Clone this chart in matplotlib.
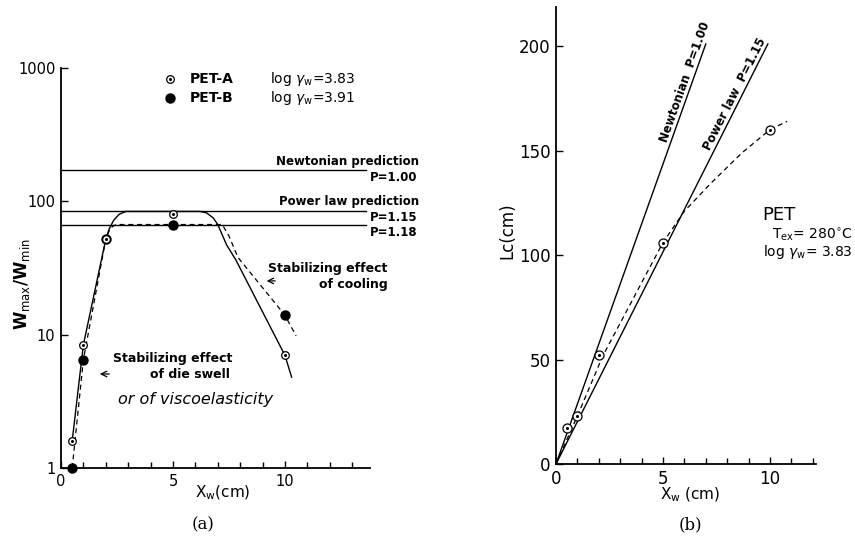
import numpy as np
import matplotlib
matplotlib.use("Agg")
import matplotlib.pyplot as plt
from matplotlib.ticker import NullLocator, FixedLocator

plt.rcParams['font.family'] = ['DejaVu Sans']
plt.rcParams['mathtext.fontset'] = 'dejavusans'

# (a) W_max/W_min against X_w
pet_a_x = [0.5, 1, 2, 5, 10]
pet_a_y = [1.6, 8.4, 52, 80, 7.0]
pet_b_x = [0.5, 1, 2, 5, 10]
pet_b_y = [1.0, 6.5, 52, 67, 14]

# hand drawn curves through the points
curve_a_x = [0.5, 1.0, 2.0, 2.15, 2.35, 2.6, 2.9, 6.2, 6.5, 6.8, 7.0, 7.4, 7.8, 10.0, 10.3]
curve_a_y = [1.6, 8.4, 52, 62, 72, 80, 84, 84, 82, 75, 67, 47, 36.6, 7.0, 4.8]
curve_b_x = [0.5, 1.0, 2.0, 2.2, 2.45, 7.2, 7.5, 7.9, 10.0, 10.5]
curve_b_y = [1.0, 6.5, 52, 63, 67, 67, 55, 38, 14, 9.8]

# predicted levels
newtonian_level = 171   # P=1.00
power115_level = 84     # P=1.15
power118_level = 67     # P=1.18
level_xmax = 13.6

# (b) Lc against X_w
lc_x = [0.5, 1, 2, 5, 10]
lc_y = [17, 23, 52, 106, 160]
lc_curve_x = [0, 1, 2.2, 5, 6.0, 7.3, 8.7, 10, 10.8]
lc_curve_y = [0, 23, 52, 106, 121, 135, 149, 160, 164]
newton_x = [0, 7.0]
newton_y = [0, 201]
power_x = [0, 9.9]
power_y = [0, 201]

W, H = 855, 536
fig = plt.figure(figsize=(W / 100, H / 100), dpi=100)

dash = (0, (4, 3))
txt = dict(fontsize=8.5, fontweight='bold')


def open_marker(ax, x, y, ms=5.5, **kw):
    ax.plot(x, y, 'o', ms=ms, mfc='white', mec='black', mew=0.9, zorder=5,
            clip_on=False, **kw)
    ax.plot(x, y, 'o', ms=1.2, color='black', zorder=6, clip_on=False, **kw)


def style_axes(ax):
    for s in ['top', 'right']:
        ax.spines[s].set_visible(False)
    for s in ['left', 'bottom']:
        ax.spines[s].set_linewidth(1.3)
    ax.tick_params(which='both', direction='in', width=1.0)
    ax.tick_params(which='major', length=5, pad=4)
    ax.tick_params(which='minor', length=4)


# ---------------- (a) ----------------
ax1 = fig.add_axes([61 / W, 1 - 468 / H, 309 / W, 400 / H])
ax1.set_yscale('log')
ax1.set_xlim(0, 13.8)
ax1.set_ylim(1, 1000)
style_axes(ax1)
ax1.set_xticks([0, 5, 10])
ax1.xaxis.set_minor_locator(FixedLocator(range(1, 14)))
ax1.yaxis.set_minor_locator(NullLocator())
ax1.set_yticks([1, 10, 100, 1000])
ax1.set_yticklabels(['1', '10', '100', '1000'], fontsize=10.5)
ax1.set_xticklabels(['0', '5', '10'], fontsize=10.5)

for lvl in [newtonian_level, power115_level, power118_level]:
    ax1.plot([0, level_xmax], [lvl, lvl], color='black', lw=1.0)

ax1.plot(curve_a_x, curve_a_y, color='black', lw=1.0)
ax1.plot(curve_b_x, curve_b_y, color='black', lw=0.9, ls=dash)
ax1.plot(pet_b_x, pet_b_y, 'o', ms=6.5, color='black', zorder=4, clip_on=False)
open_marker(ax1, pet_a_x, pet_a_y)

# legend
open_marker(ax1, [4.87], [828])
ax1.plot([4.87], [597], 'o', ms=6.5, color='black', clip_on=False)
ax1.text(5.76, 828, 'PET-A', va='center', fontsize=10, fontweight='bold')
ax1.text(5.76, 597, 'PET-B', va='center', fontsize=10, fontweight='bold')
ax1.text(9.33, 828, r'log $\gamma_{\rm w}$=3.83', va='center', fontsize=10)
ax1.text(9.33, 597, r'log $\gamma_{\rm w}$=3.91', va='center', fontsize=10)

ax1.text(16.0, 198, 'Newtonian prediction', ha='right', va='center', **txt)
ax1.text(15.9, 150, 'P=1.00', ha='right', va='center', **txt)
ax1.text(16.0, 100, 'Power law prediction', ha='right', va='center', **txt)
ax1.text(15.9, 75, 'P=1.15', ha='right', va='center', **txt)
ax1.text(15.9, 58, 'P=1.18', ha='right', va='center', **txt)

ax1.text(9.24, 31.6, 'Stabilizing effect', va='center', fontsize=9, fontweight='bold')
ax1.text(13.04, 23.6, 'of cooling', ha='center', va='center', fontsize=9,
         fontweight='bold')
ax1.annotate('', xy=(9.06, 25.3), xytext=(9.69, 25.3),
             arrowprops=dict(arrowstyle='->', lw=0.9, color='black'))

ax1.text(2.32, 6.57, 'Stabilizing effect', va='center', fontsize=9, fontweight='bold')
ax1.text(5.76, 4.99, 'of die swell', ha='center', va='center', fontsize=9,
         fontweight='bold')
ax1.annotate('', xy=(1.61, 5.07), xytext=(2.28, 5.07),
             arrowprops=dict(arrowstyle='->', lw=0.9, color='black'))
ax1.text(2.54, 3.24, 'or of viscoelasticity', va='center', fontsize=11.5,
         style='italic')

ax1.set_ylabel(r'W$_{\rm max}$/W$_{\rm min}$', fontsize=12, fontweight='bold')
ax1.yaxis.set_label_coords(-0.095, 0.46)
fig.text(223 / W, 1 - 493 / H, r'X$_{\rm w}$(cm)', ha='center', va='center', fontsize=11)
fig.text(203 / W, 1 - 525 / H, '(a)', ha='center', va='center', fontsize=12,
         family='DejaVu Serif')

# ---------------- (b) ----------------
ax2 = fig.add_axes([556 / W, 1 - 464 / H, 260 / W, 457 / H])
ax2.set_xlim(0, 12.15)
ax2.set_ylim(0, 218.7)
style_axes(ax2)
ax2.set_xticks([0, 5, 10])
ax2.xaxis.set_minor_locator(FixedLocator(range(1, 13)))
ax2.set_yticks([0, 50, 100, 150, 200])
ax2.tick_params(labelsize=12)

ax2.plot(newton_x, newton_y, color='black', lw=1.0)
ax2.plot(power_x, power_y, color='black', lw=1.0)
ax2.plot(lc_curve_x, lc_curve_y, color='black', lw=0.9, ls=dash)
open_marker(ax2, lc_x, lc_y, ms=6.5)

ax2.text(5.3, 153, 'Newtonian  P=1.00', rotation=70.4, rotation_mode='anchor',
         ha='left', va='bottom', **txt)
ax2.text(7.3, 149, 'Power law  P=1.15', rotation=63.2, rotation_mode='anchor',
         ha='left', va='bottom', **txt)

ax2.text(9.63, 119, 'PET', va='center', fontsize=13)
ax2.text(10.1, 109.6, r'T$_{\rm ex}$= 280$^{\circ}$C', va='center', fontsize=10)
ax2.text(9.67, 101.4, r'log $\gamma_{\rm w}$= 3.83', va='center', fontsize=10)

ax2.set_ylabel('Lc(cm)', fontsize=12)
ax2.yaxis.set_label_coords(-0.154, 0.51)
fig.text(690 / W, 1 - 495 / H, r'X$_{\rm w}$ (cm)', ha='center', va='center', fontsize=11)
fig.text(690 / W, 1 - 525 / H, '(b)', ha='center', va='center', fontsize=12,
         family='DejaVu Serif')

fig.savefig('out.png', dpi=100)
